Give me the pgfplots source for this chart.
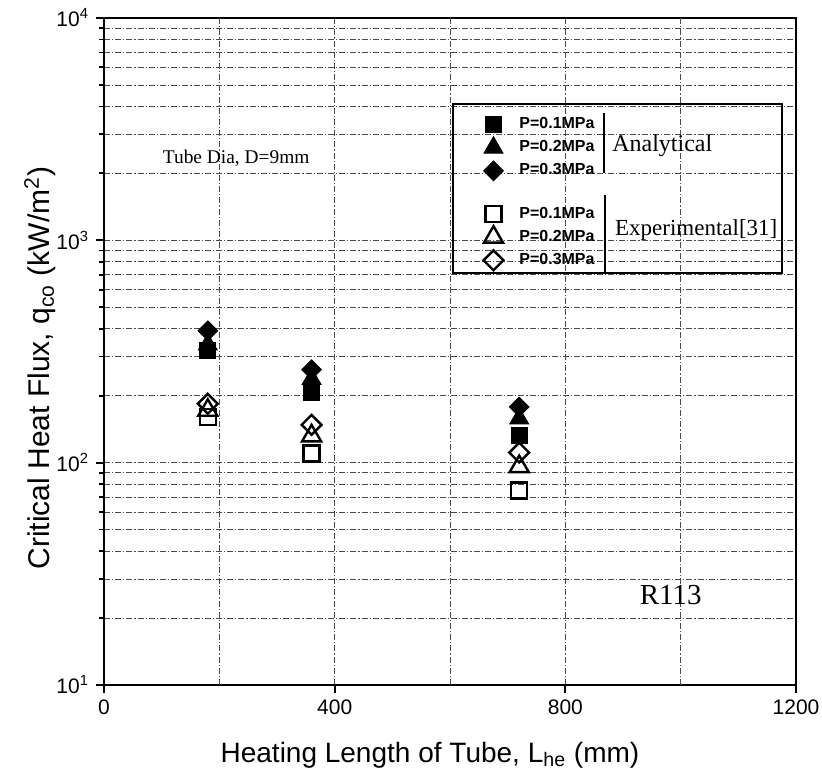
\documentclass[border=0pt]{standalone}
\usepackage{fontspec}
\setmainfont{Liberation Sans}
\newfontfamily\serif{Liberation Serif}
\usepackage{pgfplots}
\pgfplotsset{compat=1.18}

\begin{document}
\begin{tikzpicture}
\begin{axis}[
  scale only axis, width=346pt, height=333.5pt,
  xmin=0, xmax=1200, ymin=10, ymax=10000, ymode=log, log basis y=10,
  xtick={0,400,800,1200},
  extra x ticks={200,600,1000}, extra x tick labels={},
  extra x tick style={major tick length=0pt, grid=major},
  ytick={10,100,1000,10000},
  yticklabels={10\textsuperscript{1},10\textsuperscript{2},10\textsuperscript{3},10\textsuperscript{4}},
  minor ytick={20,30,40,50,60,70,80,90,200,300,400,500,600,700,800,900,2000,3000,4000,5000,6000,7000,8000,9000},
  tick align=outside, xtick pos=bottom, ytick pos=left,
  major tick length=4pt, minor tick length=2.5pt,
  every tick/.style={black, line width=0.9pt},
  axis line style={line width=1pt},
  grid=both,
  major grid style={black!70, line width=0.4pt, dash pattern=on 3pt off 1pt on 0.6pt off 1pt},
  minor grid style={black!70, line width=0.4pt, dash pattern=on 3pt off 1pt on 0.6pt off 1pt},
  ticklabel style={font=\fontsize{10.5}{12}\selectfont},
  /pgf/number format/assume math mode=true,
  /pgf/number format/1000 sep={},
  xlabel={Heating Length of Tube, L\textsubscript{he} (mm)},
  ylabel={Critical Heat Flux, q\textsubscript{co} (kW/m\textsuperscript{2})},
  xlabel style={font=\fontsize{14}{16}\selectfont, at={(axis description cs:0.471,-0.105)}, anchor=center},
  ylabel style={font=\fontsize{15}{17}\selectfont, at={(axis description cs:-0.0925,0.475)}, anchor=center},
  legend style={at={(rel axis cs:0.5376,0.8576)}, anchor=north west, draw=none, fill=none,
    font=\fontsize{8}{9}\selectfont\bfseries, row sep=0.5pt, inner sep=0pt,
    /tikz/every odd column/.append style={column sep=6pt}},
  legend cell align=left,
]
% analytical predictions
\addplot[only marks, mark=square*, mark size=4pt, black] coordinates {(180,320) (360,208) (720,133)};
\addlegendentry{P=0.1MPa}
\addplot[only marks, mark=triangle*, mark size=5.5pt, black] coordinates {(180,340) (360,238) (720,158)};
\addlegendentry{P=0.2MPa}
\addplot[only marks, mark=square*, mark size=3.5pt, mark options={rotate=45}, black] coordinates {(180,392) (360,262) (720,178)};
\addlegendentry{P=0.3MPa}
\addlegendimage{empty legend}
\addlegendentry{\rule{0pt}{4pt}}
% experimental data
\addplot[only marks, mark=square, mark size=4pt, black, mark options={line width=1.2pt, fill=white}] coordinates {(180,160) (360,110) (720,75)};
\addlegendentry{P=0.1MPa}
\addplot[only marks, mark=triangle, mark size=5.5pt, black, mark options={line width=1.2pt, fill=white}] coordinates {(180,172) (360,132) (720,96)};
\addlegendentry{P=0.2MPa}
\addplot[only marks, mark=square, mark size=3.5pt, black, mark options={rotate=45, line width=1.2pt, fill=white}] coordinates {(180,184) (360,148) (720,111)};
\addlegendentry{P=0.3MPa}

% legend frame, group brackets and annotations
\draw[line width=1pt] (rel axis cs:0.5043,0.6177) rectangle (rel axis cs:0.9798,0.871);
\draw[line width=0.9pt] (rel axis cs:0.7225,0.8576) -- (rel axis cs:0.7225,0.7676);
\draw[line width=0.9pt] (rel axis cs:0.724,0.7346) -- (rel axis cs:0.724,0.6177);
\node[anchor=west, font=\serif\fontsize{12}{14}\selectfont, inner sep=0pt] at (rel axis cs:0.734,0.808) {Analytical};
\node[anchor=west, font=\serif\fontsize{11.5}{13}\selectfont, inner sep=0pt] at (rel axis cs:0.738,0.682) {Experimental[31]};
\node[font=\serif\fontsize{9.7}{12}\selectfont, inner sep=0pt] at (rel axis cs:0.191,0.790) {Tube Dia, D=9mm};
\node[font=\serif\fontsize{14.5}{16}\selectfont, inner sep=0pt] at (rel axis cs:0.819,0.135) {R113};
\end{axis}
\pgfresetboundingbox
\path ([shift={(-52pt,-46.5pt)}]current axis.south west) rectangle ([shift={(13pt,9pt)}]current axis.north east);
\end{tikzpicture}
\end{document}
